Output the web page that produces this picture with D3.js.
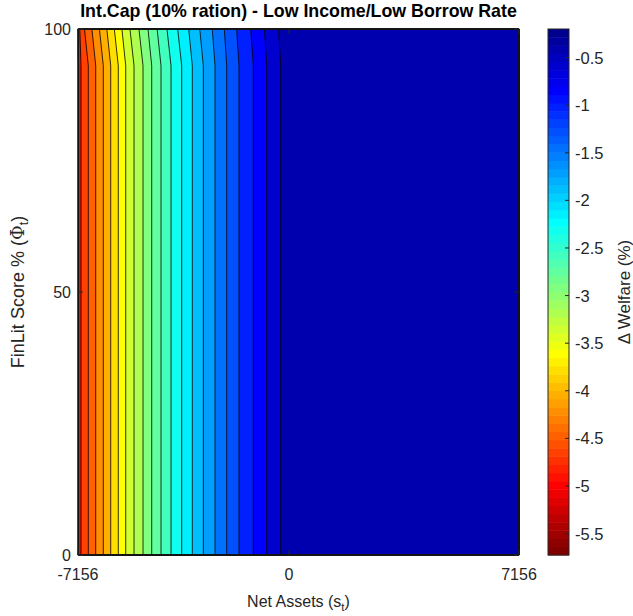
<!DOCTYPE html>
<html><head><meta charset="utf-8">
<script src="https://cdn.jsdelivr.net/npm/d3@7"></script>
<style>body{margin:0;background:#fff}svg{display:block}text{font-family:"Liberation Sans",Arial,sans-serif;fill:#262626}</style>
</head><body><svg id="c" width="633" height="616"></svg>
<script>
// ---------- data ----------
const assets = [-7156, -7145, -7054, -6806, -6555, -6297, -6046, -5789, -5538, -5256, -4951, -4656, -4341, -4001, -3639, -3279, -2906, -2509, -2113, -1696, -1211, -756, -281, 0, 3500, 7156];
const finlit = [0, 93, 100];
const welfareFinlit0 = [-5.725, -4.9, -4.6625, -4.45, -4.2375, -4.025, -3.8125, -3.6, -3.3875, -3.175, -2.9625, -2.75, -2.5375, -2.325, -2.1125, -1.9, -1.6875, -1.475, -1.2625, -1.05, -0.8375, -0.625, -0.4125, -0.33, -0.24, -0.2];
const welfareFinlit93 = [-5.725, -4.9, -4.6625, -4.45, -4.2375, -4.025, -3.8125, -3.6, -3.3875, -3.175, -2.9625, -2.75, -2.5375, -2.325, -2.1125, -1.9, -1.6875, -1.475, -1.2625, -1.05, -0.8375, -0.625, -0.4125, -0.33, -0.24, -0.2];
const welfareFinlit100 = [-5.6, -4.8, -4.55, -4.34, -4.13, -3.915, -3.70, -3.49, -3.28, -3.075, -2.87, -2.66, -2.45, -2.24, -2.035, -1.83, -1.62, -1.43, -1.22, -1.01, -0.80, -0.59, -0.38, -0.30, -0.22, -0.2];
const levels = [-5.5125, -5.3, -5.0875, -4.875, -4.6625, -4.45, -4.2375, -4.025, -3.8125, -3.6, -3.3875, -3.175, -2.9625, -2.75, -2.5375, -2.325, -2.1125, -1.9, -1.6875, -1.475, -1.2625, -1.05, -0.8375, -0.625, -0.4125];
const cLim = [-5.725, -0.2];
const xTicks = [-7156, 0, 7156];
const yTicks = [0, 50, 100];
const cbTicks = [-5.5, -5, -4.5, -4, -3.5, -3, -2.5, -2, -1.5, -1, -0.5];

// ---------- layout ----------
const P = {l:78, r:519, t:29, b:555, zeroX:289};
const CB = {l:548, r:569};
const svg = d3.select("#c");
const axisCol = "#262626";

const xScale = d3.scaleLinear().domain([xTicks[0], xTicks[1], xTicks[2]]).range([P.l, P.zeroX, P.r]);
const yScale = d3.scaleLinear().domain([yTicks[0], yTicks[2]]).range([P.b, P.t]);

// flipped jet(64)
function jet(m){
  const n=Math.ceil(m/4), u=[];
  for(let i=1;i<=n;i++)u.push(i/n);
  for(let i=1;i<n;i++)u.push(1);
  for(let i=n;i>=1;i--)u.push(i/n);
  const g0=Math.ceil(n/2)-(m%4===1?1:0);
  const J=Array.from({length:m},()=>[0,0,0]);
  u.forEach((v,i)=>{const g=g0+i+1,r=g+n,b=g-n;
    if(g>=1&&g<=m)J[g-1][1]=v; if(r>=1&&r<=m)J[r-1][0]=v; if(b>=1&&b<=m)J[b-1][2]=v;});
  return J;
}
const cmap = jet(64).reverse().map(c=>d3.rgb(c[0]*255,c[1]*255,c[2]*255).formatHex());
function colorOf(v){
  let i=Math.floor((v-cLim[0])/(cLim[1]-cLim[0])*64);
  i=Math.max(0,Math.min(63,i));
  return cmap[i];
}

// ---------- contour fill ----------
const rows=[welfareFinlit0, welfareFinlit93, welfareFinlit100];
const nx=assets.length, ny=finlit.length;
const values=[].concat(...rows);
function interp(arr,c,n){
  let t=Math.max(0,Math.min(n-1,c-0.5));
  let i=Math.min(n-2,Math.floor(t)), f=t-i;
  return arr[i]+f*(arr[i+1]-arr[i]);
}
const proj=d3.geoTransform({point(x,y){this.stream.point(xScale(interp(assets,x,nx)), yScale(interp(finlit,y,ny)));}});
const path=d3.geoPath(proj);
const conts=d3.contours().size([nx,ny]).thresholds(levels).smooth(true)(values);

const g=svg.append("g");
g.append("rect").attr("x",P.l).attr("y",P.t).attr("width",P.r-P.l).attr("height",P.b-P.t).attr("fill",colorOf(cLim[0]));
g.selectAll("path.f").data(conts).join("path").attr("class","f")
  .attr("d",path).attr("fill",d=>colorOf(d.value)).attr("stroke","none");
g.selectAll("path.l").data(conts).join("path").attr("class","l")
  .attr("d",path).attr("fill","none").attr("stroke","#000").attr("stroke-width",0.8);

// ---------- axes box ----------
svg.append("rect").attr("x",P.l).attr("y",P.t).attr("width",P.r-P.l).attr("height",P.b-P.t)
  .attr("fill","none").attr("stroke",axisCol).attr("stroke-width",1);
const tl=5, fsTick=16;
xTicks.forEach(v=>{const x=xScale(v);
  svg.append("line").attr("x1",x).attr("x2",x).attr("y1",P.b).attr("y2",P.b-tl).attr("stroke",axisCol);
  svg.append("line").attr("x1",x).attr("x2",x).attr("y1",P.t).attr("y2",P.t+tl).attr("stroke",axisCol);
  svg.append("text").attr("x",x).attr("y",P.b+25).attr("text-anchor","middle").attr("font-size",fsTick).text(v);
});
yTicks.forEach(v=>{const y=yScale(v);
  svg.append("line").attr("x1",P.l).attr("x2",P.l+tl).attr("y1",y).attr("y2",y).attr("stroke",axisCol);
  svg.append("line").attr("x1",P.r).attr("x2",P.r-tl).attr("y1",y).attr("y2",y).attr("stroke",axisCol);
  svg.append("text").attr("x",P.l-7).attr("y",y+6).attr("text-anchor","end").attr("font-size",fsTick).text(v);
});

// ---------- colorbar ----------
const cbScale=d3.scaleLinear().domain(cLim).range([P.b,P.t]);
const cb=svg.append("g");
cmap.forEach((c,i)=>{
  const v0=cLim[0]+(cLim[1]-cLim[0])*i/64, v1=cLim[0]+(cLim[1]-cLim[0])*(i+1)/64;
  cb.append("rect").attr("x",CB.l).attr("width",CB.r-CB.l).attr("y",cbScale(v1)).attr("height",cbScale(v0)-cbScale(v1)+0.5).attr("fill",c);
});
cb.append("rect").attr("x",CB.l).attr("y",P.t).attr("width",CB.r-CB.l).attr("height",P.b-P.t).attr("fill","none").attr("stroke",axisCol);
cbTicks.forEach(v=>{const y=cbScale(v);
  cb.append("line").attr("x1",CB.r).attr("x2",CB.r-4).attr("y1",y).attr("y2",y).attr("stroke",axisCol);
  cb.append("text").attr("x",CB.r+6).attr("y",y+6).attr("font-size",16.5).text(v);
});
svg.append("text").attr("transform",`translate(630,${(P.t+P.b)/2}) rotate(-90)`).attr("text-anchor","middle")
  .attr("font-size",17).text("\u0394 Welfare (%)");

// ---------- labels ----------
svg.append("text").attr("x",(P.l+P.r)/2).attr("y",17).attr("text-anchor","middle").attr("font-size",17.8)
  .attr("font-weight","bold").style("fill","#000").text("Int.Cap (10% ration) - Low Income/Low Borrow Rate");
const xl=svg.append("text").attr("x",(P.l+P.r)/2).attr("y",607).attr("text-anchor","middle").attr("font-size",16);
xl.append("tspan").text("Net Assets (s");
xl.append("tspan").attr("font-size",11.5).attr("dy",4).text("t");
xl.append("tspan").attr("dy",-4).text(")");
const yl=svg.append("text").attr("transform",`translate(24,${(P.t+P.b)/2}) rotate(-90)`).attr("text-anchor","middle").attr("font-size",18);
yl.append("tspan").text("FinLit Score % (");
yl.append("tspan").attr("font-family","DejaVu Serif").text("\u03A6");
yl.append("tspan").attr("font-size",12.5).attr("dy",4).text("t");
yl.append("tspan").attr("dy",-4).text(")");
</script></body></html>
